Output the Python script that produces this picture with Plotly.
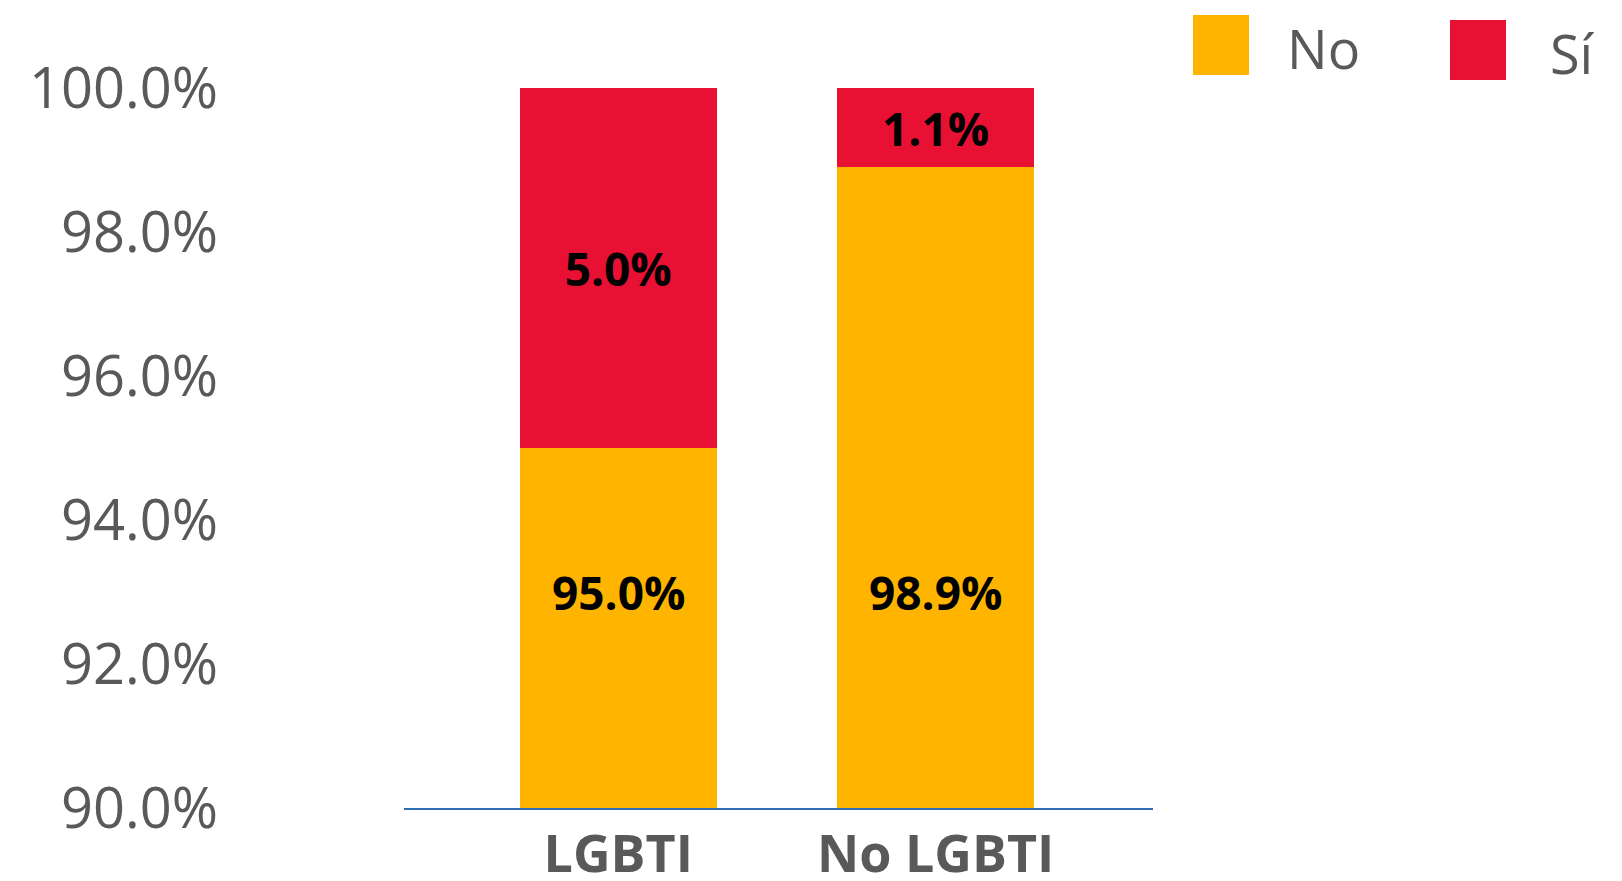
import plotly.graph_objects as go

categories = ["LGBTI", "No LGBTI"]
no_vals = [95.0, 98.9]
si_vals = [5.0, 1.1]
series_names = ["No", "Sí"]
y_ticks = [90, 92, 94, 96, 98, 100]

ORANGE = "#FFB500"
RED = "#E81134"
GRAY = "#595959"
FONT = "Open Sans, Noto Sans, sans-serif"
LABEL_Y = 93.0  # the "No" labels sit on one row low in the bars

fig = go.Figure()
fig.add_trace(go.Bar(x=categories, y=no_vals, name=series_names[0],
                     marker=dict(color=ORANGE, line=dict(width=0)),
                     width=0.62, showlegend=False))
fig.add_trace(go.Bar(x=categories, y=si_vals, name=series_names[1],
                     marker=dict(color=RED, line=dict(width=0)),
                     text=[f"{v:.1f}%" for v in si_vals], textposition="inside",
                     insidetextanchor="middle", constraintext="none", textangle=0,
                     textfont=dict(family=FONT, size=46, color="black", weight="bold"),
                     width=0.62, showlegend=False))

# the orange segments start far below the visible range, so label them by hand
for cat, v in zip(categories, no_vals):
    fig.add_annotation(x=cat, y=LABEL_Y, text=f"{v:.1f}%", showarrow=False,
                       font=dict(family=FONT, size=46, color="black", weight="bold"))

fig.update_layout(
    barmode="stack",
    width=1614, height=873,
    margin=dict(l=396, r=469, t=80, b=73),
    paper_bgcolor="white", plot_bgcolor="white",
    xaxis=dict(range=[-0.675, 1.685], showline=True, linecolor="#2E6DB4", linewidth=2,
               tickfont=dict(family=FONT, size=52, color=GRAY, weight="bold"),
               showgrid=False, ticks="", ticklabelstandoff=0, automargin=False),
    yaxis=dict(range=[90, 100], tickvals=y_ticks,
               ticktext=[f"{v:.1f}%" for v in y_ticks],
               tickfont=dict(family=FONT, size=56, color=GRAY),
               showgrid=False, zeroline=False, showline=False, ticks="",
               ticklabelstandoff=185, automargin=False),
)

# legend swatches drawn big, as in the reference
legend_items = [(series_names[0], ORANGE, 1.0534, 1.1014, 1.176), (series_names[1], RED, 1.3965, 1.0944, 1.5274)]
for name, col, x0, ytop, tx in legend_items:
    fig.add_shape(type="rect", xref="paper", yref="paper", x0=x0, x1=x0 + 0.0748,
                  y0=ytop - 0.0833, y1=ytop, fillcolor=col, line=dict(width=0))
    fig.add_annotation(xref="paper", yref="paper", x=tx, y=ytop - 0.046, text=name,
                       showarrow=False, xanchor="left", yanchor="middle",
                       font=dict(family=FONT, size=54, color=GRAY))

fig.write_html("out.html")
